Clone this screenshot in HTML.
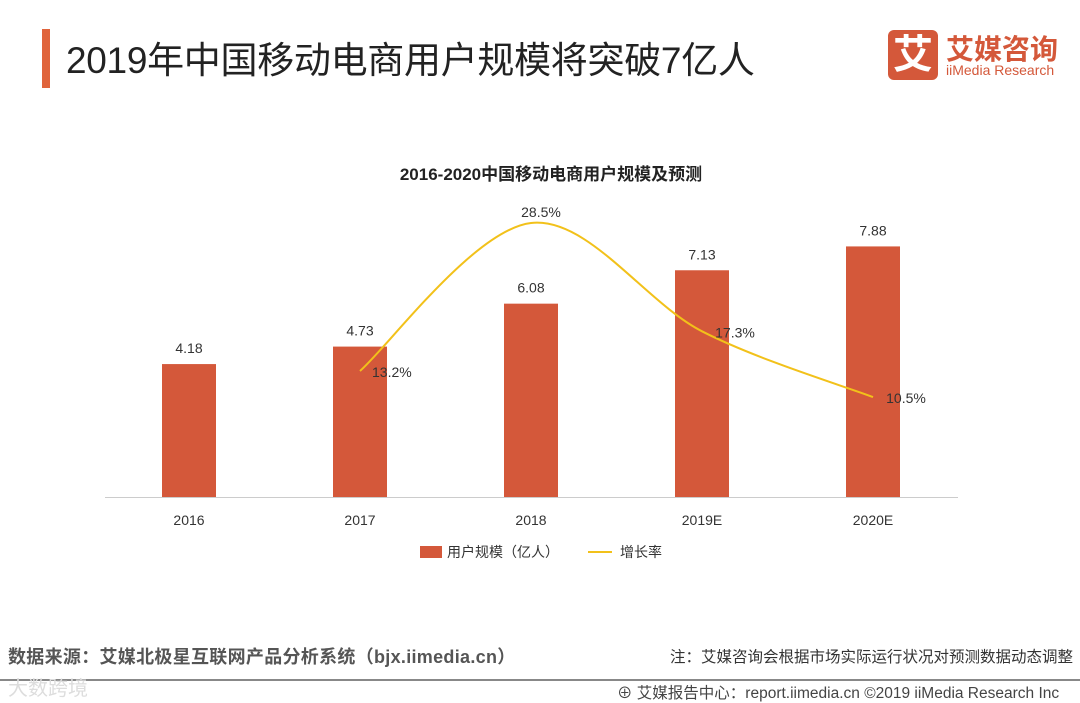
<!DOCTYPE html>
<html><head><meta charset="utf-8"><style>
body{margin:0;width:1080px;height:703px;background:#fff;overflow:hidden;position:relative;font-family:"Liberation Sans","Noto Sans CJK SC",sans-serif}
.a{position:absolute;white-space:nowrap}
</style></head><body>
<div class="a" style="left:42px;top:29px;width:8px;height:59px;background:#e0643c"></div>
<div class="a" style="left:66px;top:30px;font-size:37px;color:#222;letter-spacing:-0.3px">2019年中国移动电商用户规模将突破7亿人</div>
<div class="a" style="left:888px;top:30px;width:50px;height:50px;background:#d4583a;border-radius:6px;color:#fff;font-size:40px;line-height:50px;text-align:center;font-weight:bold">艾</div>
<div class="a" style="left:946px;top:28px;font-size:28px;color:#d4583a;font-weight:bold">艾媒咨询</div>
<div class="a" style="left:946px;top:62px;font-size:14px;color:#d4583a">iiMedia Research</div>
<div class="a" style="left:551px;top:160px;transform:translateX(-50%);font-size:17px;font-weight:bold;color:#222">2016-2020中国移动电商用户规模及预测</div>
<svg class="a" style="left:0;top:0" width="1080" height="703" id="chart"></svg>
<div class="a" style="left:8px;top:643px;font-size:18px;color:#555;font-weight:bold;letter-spacing:0.3px">数据来源：艾媒北极星互联网产品分析系统（bjx.iimedia.cn）</div>
<div class="a" style="left:670px;top:645px;font-size:15.5px;color:#333">注：艾媒咨询会根据市场实际运行状况对预测数据动态调整</div>
<div class="a" style="left:0;top:679px;width:1080px;height:2px;background:#888"></div>
<div class="a" style="left:8px;top:672px;font-size:20px;color:#ddd">大数跨境</div>
<div class="a" style="left:617px;top:681px;font-size:15.5px;color:#444">⊕ 艾媒报告中心：report.iimedia.cn ©2019 iiMedia Research Inc</div>
<script>
const categories=["2016","2017","2018","2019E","2020E"];
const users=[4.18,4.73,6.08,7.13,7.88];
const growth=[null,13.2,28.5,17.3,10.5];
const svg=document.getElementById('chart');const NS='http://www.w3.org/2000/svg';
function mk(t,a){const e=document.createElementNS(NS,t);for(const k in a)e.setAttribute(k,a[k]);svg.appendChild(e);return e;}
const base=497;
const x=i=>189+i*171;
const yb=v=>base-v*31.8;
const yl=v=>498.6-v*9.67;
const ax=mk('line',{x1:105,x2:958,y1:base+0.5,y2:base+0.5,stroke:'#ccc'});

categories.forEach((c,i)=>{
 const r=mk('rect',{x:x(i)-27,y:yb(users[i]),width:54,height:base-yb(users[i]),fill:'#d4583a'});
 
 const t=mk('text',{x:x(i),y:yb(users[i])-11,'text-anchor':'middle','font-size':14,fill:'#333'});t.textContent=users[i].toFixed(2);
 
 const l=mk('text',{x:x(i),y:525,'text-anchor':'middle','font-size':14,fill:'#333'});l.textContent=c;
 
});
const pts=[];growth.forEach((g,i)=>{if(g!=null)pts.push([x(i),yl(g),g]);});
let d='M'+pts[0][0]+','+pts[0][1];
for(let i=0;i<pts.length-1;i++){const p0=pts[i-1]||pts[i],p1=pts[i],p2=pts[i+1],p3=pts[i+2]||p2;
 d+=` C${p1[0]+(p2[0]-p0[0])/6},${p1[1]+(p2[1]-p0[1])/6} ${p2[0]-(p3[0]-p1[0])/6},${p2[1]-(p3[1]-p1[1])/6} ${p2[0]},${p2[1]}`;}
const ln=mk('path',{d:d,fill:'none',stroke:'#f2c11a','stroke-width':2});

const off=[[12,6],[10,-6],[33,6],[33,6]];
pts.forEach((p,i)=>{const t=mk('text',{x:p[0]+off[i][0],y:p[1]+off[i][1],'text-anchor':i==0?'start':'middle','font-size':14,fill:'#333'});t.textContent=p[2].toFixed(1)+'%';
 });
const lr=mk('rect',{x:420,y:546,width:22,height:12,fill:'#d4583a'});
const lt=mk('text',{x:447,y:557,'font-size':14,fill:'#333'});lt.textContent='用户规模（亿人）';
const ll=mk('line',{x1:588,x2:612,y1:552,y2:552,stroke:'#f2c11a','stroke-width':2});
const lt2=mk('text',{x:620,y:557,'font-size':14,fill:'#333'});lt2.textContent='增长率';
</script>
</body></html>
